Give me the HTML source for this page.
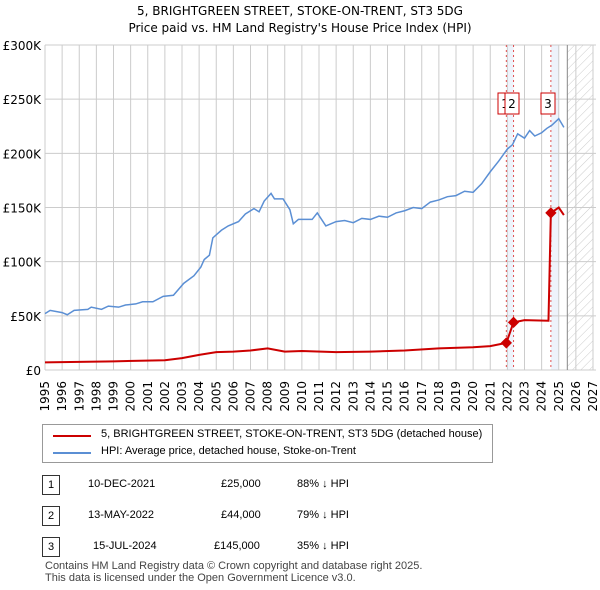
<!DOCTYPE html>
<html><head><meta charset="utf-8"><style>
body{margin:0;width:600px;height:590px;background:#fff;font-family:"Liberation Sans","DejaVu Sans",sans-serif;overflow:hidden;position:relative}
.t{position:absolute;font-size:12px;color:#000}
</style></head><body>
<svg id="c" width="600" height="590" style="position:absolute;left:0;top:0"></svg>
<script>
const years=[1995,1996,1997,1998,1999,2000,2001,2002,2003,2004,2005,2006,2007,2008,2009,2010,2011,2012,2013,2014,2015,2016,2017,2018,2019,2020,2021,2022,2023,2024,2025,2026,2027];
const yTicks=[0,50,100,150,200,250,300];
const yTickLabels=["£0","£50K","£100K","£150K","£200K","£250K","£300K"];
const hpiT=[1995.0,1995.3,1996,1996.3,1996.7,1997.5,1997.7,1998.3,1998.7,1999.3,1999.7,2000.3,2000.7,2001.3,2001.9,2002.5,2003.1,2003.7,2004.1,2004.3,2004.6,2004.8,2005.3,2005.7,2006.3,2006.7,2007.2,2007.5,2007.8,2008.2,2008.4,2008.9,2009.3,2009.5,2009.8,2010.6,2010.9,2011.4,2012.0,2012.5,2013,2013.5,2014,2014.5,2015,2015.5,2016,2016.5,2017,2017.5,2018,2018.5,2019,2019.5,2020,2020.5,2021,2021.5,2022,2022.3,2022.6,2023,2023.3,2023.6,2024,2024.3,2024.6,2025,2025.3];
const hpiV=[52,55,53,51,55,56,58,56,59,58,60,61,63,63,68,69,80,87,95,102,106,122,129,133,137,144,149,146,156,163,158,158,148,135,139,139,145,133,137,138,136,140,139,142,141,145,147,150,149,155,157,160,161,165,164,172,183,193,204,208,218,214,221,216,219,223,226,232,224];
const ppT=[1995,1999,2002,2003,2004,2005,2006,2007,2008,2009,2010,2012,2014,2016,2018,2020,2021,2021.94,2022.36,2023,2024.4,2024.54,2025,2025.3];
const ppV=[7,8,9,11,14,16.5,17,18,20,17,17.5,16.5,17,18,20,21,22,25,44,46,45.5,145,150,143];
const saleT=[2021.94,2022.36,2024.54];
const saleV=[25,44,145];
const X=t=>45+(t-1995)*17.125, Y=v=>370-v*1.0833;
const svg=document.getElementById('c');const NS='http://www.w3.org/2000/svg';
function mk(tag,a,name){const e=document.createElementNS(NS,tag);for(const k in a)e.setAttribute(k,a[k]);


svg.appendChild(e);return e;}
const defs=mk('defs',{},'defs');defs.innerHTML='<pattern id="h" width="6" height="6" patternUnits="userSpaceOnUse" patternTransform="rotate(45)"><line x1="0" y1="0" x2="0" y2="6" stroke="#ccc" stroke-width="1"/></pattern>';
mk('rect',{x:X(2022.0),y:45,width:X(2022.36)-X(2022.0),height:325,fill:'#eef3fb'},'sale-band-1');
mk('rect',{x:X(2024.54),y:45,width:X(2025.0)-X(2024.54),height:325,fill:'#eef3fb'},'sale-band-3');
mk('rect',{x:X(2025.5),y:45,width:X(2027)-X(2025.5),height:325,fill:'url(#h)'},'future-hatch');
years.forEach((y,i)=>{mk('line',{x1:X(y),x2:X(y),y1:45,y2:370,stroke:'#ccc'},'x-grid');
const t=mk('text',{x:0,y:0,'text-anchor':'end','font-size':12,'font-family':'DejaVu Sans',transform:`translate(${X(y)+4},381) rotate(-90)`},'x-tick-label');t.textContent=y;});
yTicks.forEach((v,i)=>{mk('line',{x1:45,x2:596,y1:Y(v),y2:Y(v),stroke:'#ccc'},'y-grid');
const t=mk('text',{x:41,y:Y(v)+5,'text-anchor':'end','font-size':12,'font-family':'DejaVu Sans'},'y-tick-label');t.textContent=yTickLabels[i];});
mk('line',{x1:X(2025.5),x2:X(2025.5),y1:45,y2:370,stroke:'#888'},'forecast-line');
saleT.forEach(t=>mk('line',{x1:X(t),x2:X(t),y1:45,y2:370,stroke:'#e05050','stroke-dasharray':'2,3'},'sale-marker-line'));
mk('polyline',{points:hpiT.map((t,i)=>X(t)+','+Y(hpiV[i])).join(' '),fill:'none',stroke:'#5b8fd4','stroke-width':1.5},'hpi-line');
mk('polyline',{points:ppT.map((t,i)=>X(t)+','+Y(ppV[i])).join(' '),fill:'none',stroke:'#cc0000','stroke-width':2},'price-paid-line');
saleT.forEach((t,i)=>mk('rect',{x:X(t)-4,y:Y(saleV[i])-4,width:8,height:8,fill:'#cc0000',transform:`rotate(45 ${X(t)} ${Y(saleV[i])})`},'sale-point-'+(i+1)));
[[498,'1'],[505,'2'],[541,'3']].forEach(([x,l])=>{mk('rect',{x:x,y:93,width:14,height:21,fill:'#fff',stroke:'#cc0000'},'sale-label-box-'+l);
const t=mk('text',{x:x+7,y:108,'text-anchor':'middle','font-size':12,'font-family':'DejaVu Sans'},'sale-label-'+l);t.textContent=l;});
</script>
<div class="t" style="left:0;width:600px;top:3px;text-align:center;font-size:12px;line-height:17px;font-family:'DejaVu Sans',sans-serif">5, BRIGHTGREEN STREET, STOKE-ON-TRENT, ST3 5DG<br>Price paid vs. HM Land Registry's House Price Index (HPI)</div>
<div style="position:absolute;left:42px;top:424px;width:449px;height:37px;border:1px solid #999">
<div style="position:absolute;left:10px;top:10px;width:38px;height:2px;background:#cc0000"></div>
<div class="t" style="left:58px;top:3px;font-size:11px">5, BRIGHTGREEN STREET, STOKE-ON-TRENT, ST3 5DG (detached house)</div>
<div style="position:absolute;left:10px;top:27px;width:38px;height:2px;background:#5b8fd4"></div>
<div class="t" style="left:58px;top:20px;font-size:11px">HPI: Average price, detached house, Stoke-on-Trent</div>
</div>
<div>
<div class="t" style="left:42px;top:475px;width:16px;height:18px;border:1px solid #333;text-align:center;font-size:11px;line-height:18px">1</div>
<div class="t" style="left:88px;top:478px;font-size:11px">10-DEC-2021</div><div class="t" style="left:221px;top:478px;font-size:11px">£25,000</div><div class="t" style="left:297px;top:478px;font-size:11px">88% ↓ HPI</div>
<div class="t" style="left:42px;top:506px;width:16px;height:18px;border:1px solid #333;text-align:center;font-size:11px;line-height:18px">2</div>
<div class="t" style="left:88px;top:509px;font-size:11px">13-MAY-2022</div><div class="t" style="left:221px;top:509px;font-size:11px">£44,000</div><div class="t" style="left:297px;top:509px;font-size:11px">79% ↓ HPI</div>
<div class="t" style="left:42px;top:537px;width:16px;height:18px;border:1px solid #333;text-align:center;font-size:11px;line-height:18px">3</div>
<div class="t" style="left:93px;top:540px;font-size:11px">15-JUL-2024</div><div class="t" style="left:214px;top:540px;font-size:11px">£145,000</div><div class="t" style="left:297px;top:540px;font-size:11px">35% ↓ HPI</div>
</div>
<div class="t" style="left:45px;top:560px;font-size:11px;line-height:12px;color:#444">Contains HM Land Registry data © Crown copyright and database right 2025.<br>This data is licensed under the Open Government Licence v3.0.</div>
</body></html>
